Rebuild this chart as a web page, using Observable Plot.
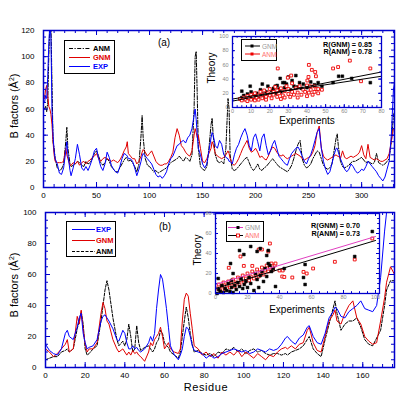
<!DOCTYPE html>
<html><head><meta charset="utf-8">
<script src="https://cdn.jsdelivr.net/npm/d3@7"></script>
<script src="https://cdn.jsdelivr.net/npm/@observablehq/plot@0.6"></script>
<style>
html,body{margin:0;padding:0;background:#fff;}
#wrap{position:relative;width:409px;height:396px;overflow:hidden;background:#fff;}
#wrap svg{position:absolute;}
</style></head><body><div id="wrap"></div>
<script>
// ---------- Panel (a) data ----------
const resA = [1,2,3,4,5,6,7,8,9,10,11, 13,15,17,19, 21,22,23, 25,26,
  28,30,32,34,36,38,40,42,44,46,48,50,52,54,56,58,60,62,64,66,68,70,72,74,76,78, 79,
  80,82,84,86,88,90,92, 93,
  94,96,98,100,102,104,106,108,110,112,114,116,118,120,122,124,126,128,130,132,134,136,138,140,142,
  143,144,145, 146,148,150,152,154,156,158, 159, 160,162,164,166,168,170,172,174, 175,
  176,178,180,182,184,186,188,190,192,194,196,198,200,202,204,206,208,210,212,214,216,218,220,222,224,226,228,230,232,234,236,238,240,242,244,246,248,250,252,254,256,258,260,262,264,266,268,270,272,274,276,
  277, 278,280,282,284,286,288,290,292,294,296,298,300,302,304,306,308,310,312,314,316,318,320,322,324,326,328,330, 331];
const expA = [65,70,68,85,110,125,115,60,40,28,22, 18,11,10,15, 28,35,25, 13,9,
  15,22,33,25,15,13,16,13,17,22,28,30,22,16,13,18,27,23,17,14,12,11,16,22,26,25, 24,
  22,22,20,15,9,14,20, 24,
  26,24,22,20,18,14,10,8,9,7,9,12,18,22,24,28,32,33,35,36,34,38,40,45,55,
  60,52,40, 30,25,18,15,18,28,38, 42, 40,32,30,36,33,25,23,22, 20,
  20,18,25,30,33,38,42,45,40,32,28,38,41,35,28,38,41,32,25,28,33,36,30,24,22,20,18,17,22,26,28,30,31,28,24,20,18,22,25,30,36,42,45,30,20,14,10,12,18,25,30,
  30, 27,22,18,14,12,14,18,16,13,11,12,14,13,16,20,18,16,14,12,9,7,5,8,14,20,40,75, 80];
const gnmA = [68,75,78,70,62,60,56,48,35,25,20, 19,19,19,20, 30,25,22, 17,17,
  19,18,20,17,19,20,18,20,21,23,24,26,22,20,22,23,22,21,20,21,20,19,21,24,28,31, 35,
  26,24,22,22,18,20,24, 27,
  29,27,24,26,28,24,20,18,17,17,18,18,20,23,27,38,45,40,32,30,27,25,24,28,40,
  45,42,38, 40,30,20,19,22,26,30, 35, 33,26,24,23,22,23,25,28, 26,
  22,18,17,19,22,26,30,33,36,30,27,28,30,27,23,24,22,21,24,28,31,30,27,25,24,25,23,22,23,24,25,26,25,24,22,21,22,23,24,27,32,42,47,30,24,22,21,22,23,24,25,
  24, 24,22,28,23,22,23,24,23,24,25,27,32,25,22,33,23,22,21,22,21,20,20,21,22,26,35,45, 45];
const anmA = [60,62,58,65,100,125,125,80,35,30,22, 15,13,14,18, 35,46,30, 18,16,
  17,18,20,19,17,16,20,18,19,22,26,28,24,19,17,19,22,20,16,14,12,12,15,18,21,23, 22,
  20,21,19,16,12,18,40, 55,
  38,22,17,16,14,12,13,11,12,13,14,15,17,19,20,21,22,24,22,20,23,22,20,25,60,
  100,104,70, 30,16,14,13,16,30,48, 53, 40,25,20,19,20,18,30,68, 60,
  25,14,13,14,16,18,20,22,23,19,15,13,15,18,14,13,15,16,18,20,22,20,18,16,15,14,13,12,14,17,22,28,33,36,22,17,15,16,18,22,25,28,27,22,17,15,14,15,18,28,38,
  41, 32,20,16,15,16,17,19,20,20,21,22,23,21,19,20,19,18,19,26,19,18,17,18,20,22,35,55, 58];

// ---------- Panel (b) data ----------
const resB = [0,2,4,6,8, 10,11,12,14, 16,17,18,19,20,21,22, 24,26,28,29,30,31,32,
  34,36,37,39,40,41,42,43,44,45,46,47,48, 50,52,53,54,55,56,57,58,59,60,61,62,63,
  65,67,68,69,70,71,72,73,74,75, 77,79,81,83,85,87,89,91,93,95,97,99,101,103,105,107,109,111,113,115,117,119,121,
  122,124,126,128,130,132,133, 135,137,139,141,143,145,146,147, 149,151,153,155,157,159,161,163,165,167,169,171,172,174,176];
const expB = [15,11,9,8,12, 22,24,20,18, 26,32,35,22,16,12,13, 14,18,30,33,34,32,30,
  25,18,17,24,22,16,12,12,14,12,13,11,10, 12,16,20,17,22,38,50,60,57,48,38,26,14,
  8,5,8,12,20,26,25,20,14,11, 10,9,6,8,6,7,9,10,11,12,11,10,11,9,10,12,11,10,12,11,12,15,19,
  20,17,15,19,21,26,27, 20,16,15,22,32,36,39,38, 33,32,36,38,40,43,38,37,36,40,58,88,100,120,120];
const gnmB = [12,10,7,9,12, 15,18,10,12, 33,28,37,25,15,10,12, 12,16,35,42,38,30,28,
  18,12,10,12,10,8,10,8,11,9,10,8,7, 4,10,16,14,18,20,22,26,20,12,14,16,12,
  10,9,12,30,44,48,46,35,25,14, 12,8,10,7,9,6,10,8,10,8,11,7,10,8,6,9,7,5,8,7,10,12,13,
  12,14,12,15,16,24,26, 16,11,10,20,30,34,37,30, 28,35,40,43,32,28,20,17,15,16,30,45,55,65,60];
const anmB = [5,6,7,7,10, 11,12,10,12, 25,30,36,28,12,8,9, 12,14,30,40,50,56,50,
  32,18,14,17,14,18,28,20,10,12,27,16,11, 13,14,12,10,12,16,18,24,22,16,14,13,10,
  8,6,10,20,30,39,32,22,15,10, 11,9,8,9,7,10,9,12,11,13,10,12,9,11,12,10,11,9,8,9,9,8,9,
  8,10,11,12,14,18,20, 12,9,7,18,28,38,43,35, 24,28,30,30,32,26,18,15,14,19,24,40,50,56,56];

// ---------- Inset (a) scatter: [experiment, theory] ----------
const insetA_GNM = [[5,14],[6,17],[7,12],[8,19],[9,15],[10,22],[11,13],[12,18],[13,20],[14,16],[15,25],[16,19],[17,14],[18,22],[19,30],[20,18],[21,24],[22,27],[23,20],[24,31],[25,26],[26,22],[27,35],[28,28],[29,33],[30,43],[31,25],[32,38],[33,30],[34,45],[35,29],[36,35],[37,27],[38,33],[40,28],[42,36],[44,32],[46,35],[48,30],[54,35],[57,44],[59,44],[64,41],[74,35],[9.5,30],[16,33],[23,30],[25.6,41],[5,23],[28,35]];
const insetA_ANM = [[4,12],[5,10],[6,14],[7,11],[8,16],[8,9],[9,13],[10,18],[10,11],[11,15],[12,10],[12,20],[13,14],[14,17],[14,11],[15,22],[16,13],[16,18],[17,24],[18,15],[18,11],[19,20],[20,17],[20,26],[21,13],[22,22],[22,18],[23,29],[24,15],[24,24],[25,20],[26,12],[26,27],[27,17],[28,23],[28,14],[29,30],[30,19],[30,26],[31,15],[32,22],[32,34],[33,18],[34,27],[35,21],[35,14],[36,30],[37,18],[38,25],[39,22],[40,31],[40,16],[41,21],[42,25],[43,18],[44,22],[45,26],[46,20],[48,25],[41,60],[42.6,53],[44.4,50],[44.8,44],[54,55],[56.7,57],[63,66],[74,55],[69,37],[40.8,43],[40.2,38],[41.6,30],[44,30],[46,26],[29.7,42],[31.5,45],[24.3,55]];
const fitA_GNM = [[0,9],[80,50]];
const fitA_ANM = [[0,12],[80,44]];
const rTextA = ["R(GNM) = 0.85", "R(ANM) = 0.78"];

// ---------- Inset (b) scatter ----------
const insetB_GNM = [[1,0],[2,4],[3,2],[4,8],[5,1],[6,5],[7,3],[8,10],[9,2],[10,6],[10,13],[11,1],[12,8],[13,4],[14,11],[15,7],[16,15],[17,5],[18,9],[19,12],[20,6],[21,16],[22,10],[24,3],[25,20],[26,14],[27,6],[28,18],[29,22],[30,12],[31,25],[32,17],[33,30],[34,28],[35,22],[36,25],[37.5,7],[15,43],[17.7,39],[22,47],[26,42],[28,45],[32,38],[33,43],[9.4,30],[1.7,15],[11,20],[43,25],[55,16],[56,9],[56,29],[87,37],[98,62]];
const insetB_ANM = [[1,5],[2,9],[3,3],[4,7],[5,11],[6,4],[7,8],[8,12],[9,6],[10,10],[11,14],[12,7],[13,11],[14,16],[15,9],[16,13],[17,18],[18,11],[19,15],[20,20],[21,13],[22,17],[23,22],[24,15],[25,19],[26,24],[27,17],[28,21],[29,26],[30,19],[31,23],[32,28],[33,22],[34,26],[35,30],[36,24],[37,28],[15.6,37],[17.7,27.6],[8.3,25.7],[23,27.6],[27,44],[29,44],[33,42],[34,50],[37.5,30],[40,23],[42,23],[41.7,17],[43,16.5],[48,16],[55,21.6],[57,20],[61,25],[74.6,31.7],[87,34],[98,55]];
const fitB_GNM = [[0,9],[100,57]];
const fitB_ANM = [[0,5],[100,53]];
const rTextB = ["R(GNM) = 0.70", "R(ANM) = 0.73"];

// ---------- tick labels ----------
const xTicksA = [0,50,100,150,200,250,300];
const yTicksA = [0,20,40,60,80,100,120];
const xTicksB = [0,20,40,60,80,100,120,140,160];
const yTicksB = [0,20,40,60,80,100];
const xTicksIA = [0,10,20,30,40,50,60,70,80];
const yTicksIA = [0,20,40,60,80,100];
const xTicksIB = [0,20,40,60,80,100];
const yTicksIB = [0,20,40,60,80];

const FONT = '"Liberation Sans", Arial, Helvetica, sans-serif';
const FRAME = "#0000cc";
const C_EXP = "#0000ff", C_GNM = "#e00000", C_ANM = "#000000";

[[resA,expA,gnmA,anmA],[resB,expB,gnmB,anmB]].forEach(g => {
  if (!g.every(a => a.length === g[0].length)) throw new Error("length mismatch " + g.map(a=>a.length));
});

const rowsA = resA.map((r,i) => ({r, exp: expA[i], gnm: gnmA[i], anm: anmA[i]}));
const rowsB = resB.map((r,i) => ({r, exp: expB[i], gnm: gnmB[i], anm: anmB[i]}));

function edgeTicks(xMaj, xMin, yMaj, yMin, fw, fh, lMaj, lMin, color) {
  const o = {stroke: color, strokeWidth: 1};
  return [
    Plot.ruleX(xMaj, {...o, insetTop: fh - lMaj}), Plot.ruleX(xMaj, {...o, insetBottom: fh - lMaj}),
    Plot.ruleX(xMin, {...o, insetTop: fh - lMin}), Plot.ruleX(xMin, {...o, insetBottom: fh - lMin}),
    Plot.ruleY(yMaj, {...o, insetRight: fw - lMaj}), Plot.ruleY(yMaj, {...o, insetLeft: fw - lMaj}),
    Plot.ruleY(yMin, {...o, insetRight: fw - lMin}), Plot.ruleY(yMin, {...o, insetLeft: fw - lMin})
  ];
}
const wrap = document.getElementById("wrap");
function place(el, left, top) { el.style.left = left + "px"; el.style.top = top + "px"; el.style.overflow = "visible"; wrap.appendChild(el); }

// ---------- Main panel (a) ----------
{
  const mL=43, mR=15, mT=30, mB=18, w=409, h=205;
  const fw=w-mL-mR, fh=h-mT-mB;
  const p = Plot.plot({
    width: w, height: h, marginLeft: mL, marginRight: mR, marginTop: mT, marginBottom: mB,
    x: {domain: [0, 331]}, y: {domain: [0, 120]},
    style: {fontFamily: FONT, fontSize: "8px", color: "black", background: "transparent"},
    marks: [
      Plot.line(rowsA, {x: "r", y: "anm", stroke: C_ANM, strokeWidth: 1, strokeDasharray: "4,1.5,1.2,1.5", clip: true}),
      Plot.line(rowsA, {x: "r", y: "gnm", stroke: C_GNM, strokeWidth: 1, clip: true}),
      Plot.line(rowsA, {x: "r", y: "exp", stroke: C_EXP, strokeWidth: 1, clip: true}),
      ...edgeTicks(xTicksA, d3.range(0, 331, 10), yTicksA, d3.range(0, 121, 5), fw, fh, 5, 3, FRAME),
      Plot.frame({stroke: FRAME, strokeWidth: 1.5}),
      Plot.axisX({ticks: xTicksA, tickSize: 0, tickPadding: 5, label: null}),
      Plot.axisY({ticks: yTicksA, tickSize: 0, tickPadding: 9, label: null})
    ]
  });
  place(p, 0, 0);
}
// ---------- Main panel (b) ----------
{
  const mL=45, mR=15, mT=12, mB=18, w=409, h=185, top=200;
  const fw=w-mL-mR, fh=h-mT-mB;
  const p = Plot.plot({
    width: w, height: h, marginLeft: mL, marginRight: mR, marginTop: mT, marginBottom: mB,
    x: {domain: [0, 176]}, y: {domain: [0, 100]},
    style: {fontFamily: FONT, fontSize: "8px", color: "black", background: "transparent"},
    marks: [
      Plot.line(rowsB, {x: "r", y: "anm", stroke: C_ANM, strokeWidth: 1, strokeDasharray: "3,1.5", clip: true}),
      Plot.line(rowsB, {x: "r", y: "gnm", stroke: C_GNM, strokeWidth: 1, clip: true}),
      Plot.line(rowsB, {x: "r", y: "exp", stroke: C_EXP, strokeWidth: 1, clip: true}),
      ...edgeTicks(xTicksB, d3.range(0, 177, 5), yTicksB, d3.range(0, 101, 5), fw, fh, 5, 3, FRAME),
      Plot.frame({stroke: FRAME, strokeWidth: 1.5}),
      Plot.axisX({ticks: xTicksB, tickSize: 0, tickPadding: 5, label: null}),
      Plot.axisY({ticks: yTicksB, tickSize: 0, tickPadding: 9, label: null})
    ]
  });
  place(p, 0, top);
}
// ---------- Insets ----------
function inset(opts) {
  const {left, top, fw, fh, xd, yd, xT, yT, xMin, yMin, gnm, anm, fitG, fitA, fitGColor, fitAColor, gnmFirst} = opts;
  const mL=12, mR=3, mT=4, mB=9;
  const gMark = Plot.dot(gnm, {x: d => d[0], y: d => d[1], symbol: "square", r: 1.6, fill: "black", stroke: "black", strokeWidth: 0.5});
  const aMark = Plot.dot(anm, {x: d => d[0], y: d => d[1], symbol: "square", r: 1.6, fill: "white", stroke: "#ee0000", strokeWidth: 0.9});
  const p = Plot.plot({
    width: fw + mL + mR, height: fh + mT + mB, marginLeft: mL, marginRight: mR, marginTop: mT, marginBottom: mB,
    x: {domain: xd}, y: {domain: yd},
    style: {fontFamily: FONT, fontSize: "5.5px", color: "#888", background: "transparent"},
    marks: [
      Plot.frame({fill: "white", stroke: "none"}),
      ...(gnmFirst ? [gMark, aMark] : [aMark, gMark]),
      Plot.line(fitG, {x: d => d[0], y: d => d[1], stroke: fitGColor, strokeWidth: 1, clip: true}),
      Plot.line(fitA, {x: d => d[0], y: d => d[1], stroke: fitAColor, strokeWidth: 1, clip: true}),
      ...edgeTicks(xT, xMin, yT, yMin, fw, fh, 3, 1.8, FRAME),
      Plot.frame({stroke: FRAME, strokeWidth: 1.3}),
      Plot.axisX({ticks: xT, tickSize: 0, tickPadding: 2, label: null}),
      Plot.axisY({ticks: yT, tickSize: 0, tickPadding: 4, label: null})
    ]
  });
  place(p, left - mL, top - mT);
}
inset({left: 232, top: 36, fw: 149, fh: 71, xd: [0, 80], yd: [0, 100], xT: xTicksIA, yT: yTicksIA,
  xMin: d3.range(0, 81, 2.5), yMin: d3.range(0, 101, 10), gnm: insetA_GNM, anm: insetA_ANM,
  fitG: fitA_GNM, fitA: fitA_ANM, fitGColor: "black", fitAColor: "black", gnmFirst: true});
inset({left: 215, top: 213, fw: 164, fh: 80, xd: [0, 102.5], yd: [0, 80], xT: xTicksIB, yT: yTicksIB,
  xMin: d3.range(0, 102, 5), yMin: d3.range(0, 81, 5), gnm: insetB_GNM, anm: insetB_ANM,
  fitG: fitB_GNM, fitA: fitB_ANM, fitGColor: "#e040c0", fitAColor: "black", gnmFirst: false});

// ---------- Labels & legends (text overlay) ----------
const ns = "http://www.w3.org/2000/svg";
const ov = document.createElementNS(ns, "svg");
ov.setAttribute("width", 409); ov.setAttribute("height", 396);
ov.style.left = "0px"; ov.style.top = "0px"; ov.style.pointerEvents = "none";
ov.setAttribute("font-family", FONT);
ov.innerHTML = `
<text transform="translate(18,106) rotate(-90)" text-anchor="middle" font-size="11">B factors (Å<tspan dy="-4" font-size="7">2</tspan><tspan dy="4">)</tspan></text>
<text transform="translate(18,285) rotate(-90)" text-anchor="middle" font-size="11">B factors (Å<tspan dy="-4" font-size="7">2</tspan><tspan dy="4">)</tspan></text>
<text x="206" y="391" text-anchor="middle" font-size="11" letter-spacing="0.6">Residue</text>
<text x="164" y="46" text-anchor="middle" font-size="10">(a)</text>
<text x="165" y="230" text-anchor="middle" font-size="10">(b)</text>

<rect x="64.5" y="40.5" width="50" height="33" fill="white" stroke="black" stroke-width="1"/>
<line x1="69" y1="48.5" x2="90" y2="48.5" stroke="black" stroke-dasharray="4,1.5,1.2,1.5"/>
<line x1="69" y1="57.5" x2="90" y2="57.5" stroke="${C_GNM}"/>
<line x1="69" y1="66.5" x2="90" y2="66.5" stroke="${C_EXP}"/>
<text x="93" y="51" font-size="7.5" font-weight="bold" fill="black">ANM</text>
<text x="93" y="60" font-size="7.5" font-weight="bold" fill="${C_GNM}">GNM</text>
<text x="93" y="69" font-size="7.5" font-weight="bold" fill="${C_EXP}">EXP</text>

<rect x="66.5" y="221.5" width="49" height="35" fill="white" stroke="black" stroke-width="1"/>
<line x1="72" y1="229.5" x2="95" y2="229.5" stroke="${C_EXP}"/>
<line x1="72" y1="240.5" x2="95" y2="240.5" stroke="${C_GNM}"/>
<line x1="72" y1="251.5" x2="95" y2="251.5" stroke="black" stroke-dasharray="3,1.5"/>
<text x="96" y="232" font-size="7.5" font-weight="bold" fill="${C_EXP}">EXP</text>
<text x="96" y="243" font-size="7.5" font-weight="bold" fill="${C_GNM}">GNM</text>
<text x="96" y="254" font-size="7.5" font-weight="bold" fill="black">ANM</text>

<text transform="translate(215,68) rotate(-90)" text-anchor="middle" font-size="10">Theory</text>
<text x="307" y="124" text-anchor="middle" font-size="10">Experiments</text>
<rect x="241.5" y="39.5" width="35" height="21" fill="white" stroke="black" stroke-width="1"/>
<line x1="245" y1="46" x2="260" y2="46" stroke="black"/>
<rect x="250.5" y="44.5" width="3" height="3" fill="black"/>
<line x1="245" y1="54" x2="260" y2="54" stroke="#ee0000"/>
<rect x="250.5" y="52.5" width="3" height="3" fill="#ee0000"/>
<text x="262" y="48.5" font-size="6.5" fill="#999">GNM</text>
<text x="262" y="56.5" font-size="6.5" fill="#ff7070">ANM</text>
<text x="372" y="46.5" text-anchor="end" font-size="7.2" font-weight="bold">${rTextA[0]}</text>
<text x="372" y="54" text-anchor="end" font-size="7.2" font-weight="bold">${rTextA[1]}</text>

<text transform="translate(201,250) rotate(-90)" text-anchor="middle" font-size="10">Theory</text>
<text x="297" y="313" text-anchor="middle" font-size="10">Experiments</text>
<rect x="226.5" y="221.5" width="37" height="20" fill="white" stroke="black" stroke-width="1"/>
<line x1="228" y1="227.5" x2="243" y2="227.5" stroke="#e040c0"/>
<rect x="236.5" y="226" width="3" height="3" fill="black"/>
<line x1="228" y1="235.5" x2="243" y2="235.5" stroke="black"/>
<rect x="236.5" y="234" width="3" height="3" fill="white" stroke="#ee0000" stroke-width="0.9"/>
<text x="245" y="230" font-size="6.5" fill="#999">GNM</text>
<text x="245" y="238" font-size="6.5" fill="#ff7070">ANM</text>
<text x="360" y="228" text-anchor="end" font-size="7.2" font-weight="bold">${rTextB[0]}</text>
<text x="360" y="235.5" text-anchor="end" font-size="7.2" font-weight="bold">${rTextB[1]}</text>
`;
wrap.appendChild(ov);
</script>
</body></html>
